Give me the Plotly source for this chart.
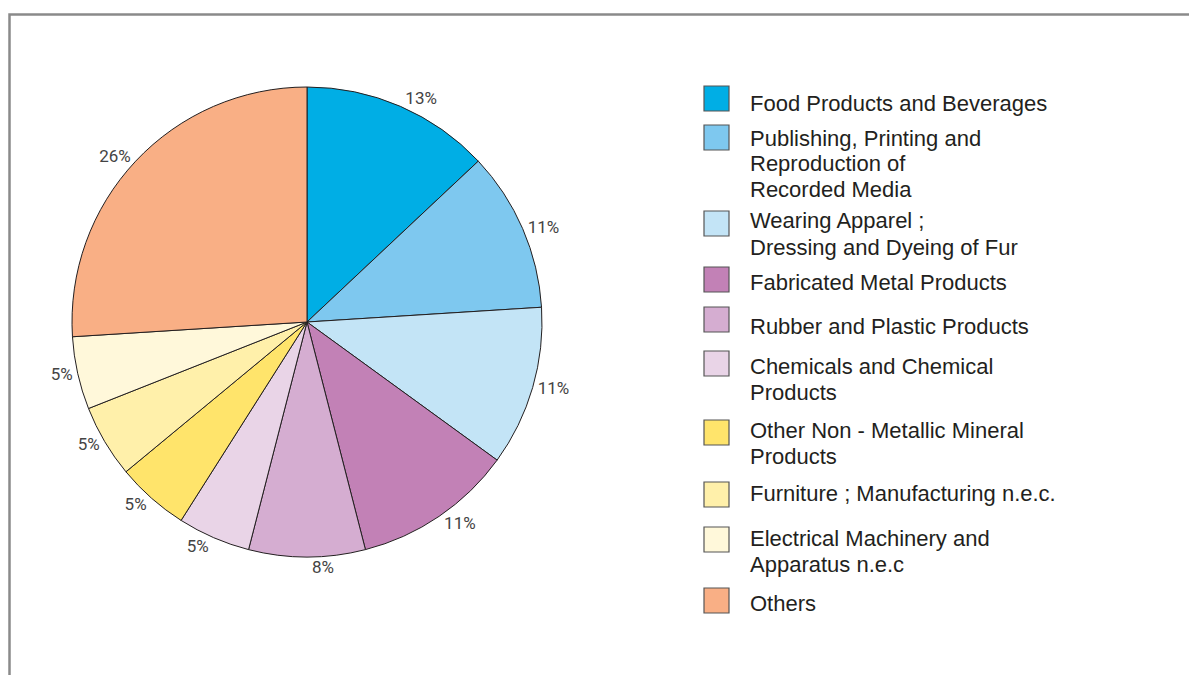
import plotly.graph_objects as go

# Industry shares (percent)
categories = [
    "Food Products and Beverages",
    "Publishing, Printing and<br>Reproduction of<br>Recorded Media",
    "Wearing Apparel ;<br>Dressing and Dyeing of Fur",
    "Fabricated Metal Products",
    "Rubber and Plastic Products",
    "Chemicals and Chemical<br>Products",
    "Other Non - Metallic Mineral<br>Products",
    "Furniture ; Manufacturing n.e.c.",
    "Electrical Machinery and<br>Apparatus n.e.c",
    "Others",
]
shares = [13, 11, 11, 11, 8, 5, 5, 5, 5, 26]

colors = [
    "#00AEE5", "#7EC8EF", "#C3E4F6", "#C281B6", "#D5ADD1",
    "#E9D4E7", "#FFE46B", "#FFF0AA", "#FFF8DA", "#F9AF85",
]

W, H = 1189, 675

def px_x(x):
    return x / W

def px_y(y):
    return 1 - y / H

# Pie placement (pixels): centre and radius
cx, cy, r = 307, 322, 235

fig = go.Figure(
    go.Pie(
        labels=[c.replace("<br>", " ") for c in categories],
        values=shares,
        sort=False,
        direction="clockwise",
        rotation=0,
        marker=dict(colors=colors, line=dict(color="#231f20", width=1)),
        texttemplate="%{value}%",
        textposition="outside",
        textfont=dict(family="Roboto, sans-serif", size=17, color="#444444"),
        domain=dict(x=[px_x(cx - r), px_x(cx + r)], y=[px_y(cy + r), px_y(cy - r)]),
        showlegend=False,
        hoverinfo="label+value",
    )
)

# Legend rows: swatch top edge and first text line centre (pixels)
swatch_top = [86, 125, 211, 267, 307, 351, 420, 482, 527, 588]
text_mid = [103, 138, 221, 282, 326, 366, 430, 493, 538, 603]
swatch_x, swatch_size, text_x, line_h = 704, 25, 748, 26

shapes = []
annotations = []
for name, col, top, mid in zip(categories, colors, swatch_top, text_mid):
    shapes.append(dict(
        type="rect", xref="paper", yref="paper",
        x0=px_x(swatch_x), x1=px_x(swatch_x + swatch_size),
        y0=px_y(top + swatch_size), y1=px_y(top),
        fillcolor=col, line=dict(color="#555555", width=1.2),
    ))
    for i, line in enumerate(name.split("<br>")):
        annotations.append(dict(
            xref="paper", yref="paper",
            x=px_x(text_x), y=px_y(mid + i * line_h),
            xanchor="left", yanchor="middle", align="left",
            text=line, showarrow=False,
            font=dict(family="Liberation Sans, Arial, sans-serif", size=22, color="#231f20"),
        ))

# Frame around the chart (top and left edges visible)
shapes.append(dict(
    type="rect", xref="paper", yref="paper",
    x0=px_x(9.5), x1=1.02, y0=-0.05, y1=px_y(14.5),
    line=dict(color="#8a8a8a", width=2.5), fillcolor="rgba(0,0,0,0)",
))

fig.update_layout(
    width=W, height=H,
    margin=dict(l=0, r=0, t=0, b=0),
    paper_bgcolor="white",
    plot_bgcolor="white",
    shapes=shapes,
    annotations=annotations,
)

fig.write_html("out.html")
